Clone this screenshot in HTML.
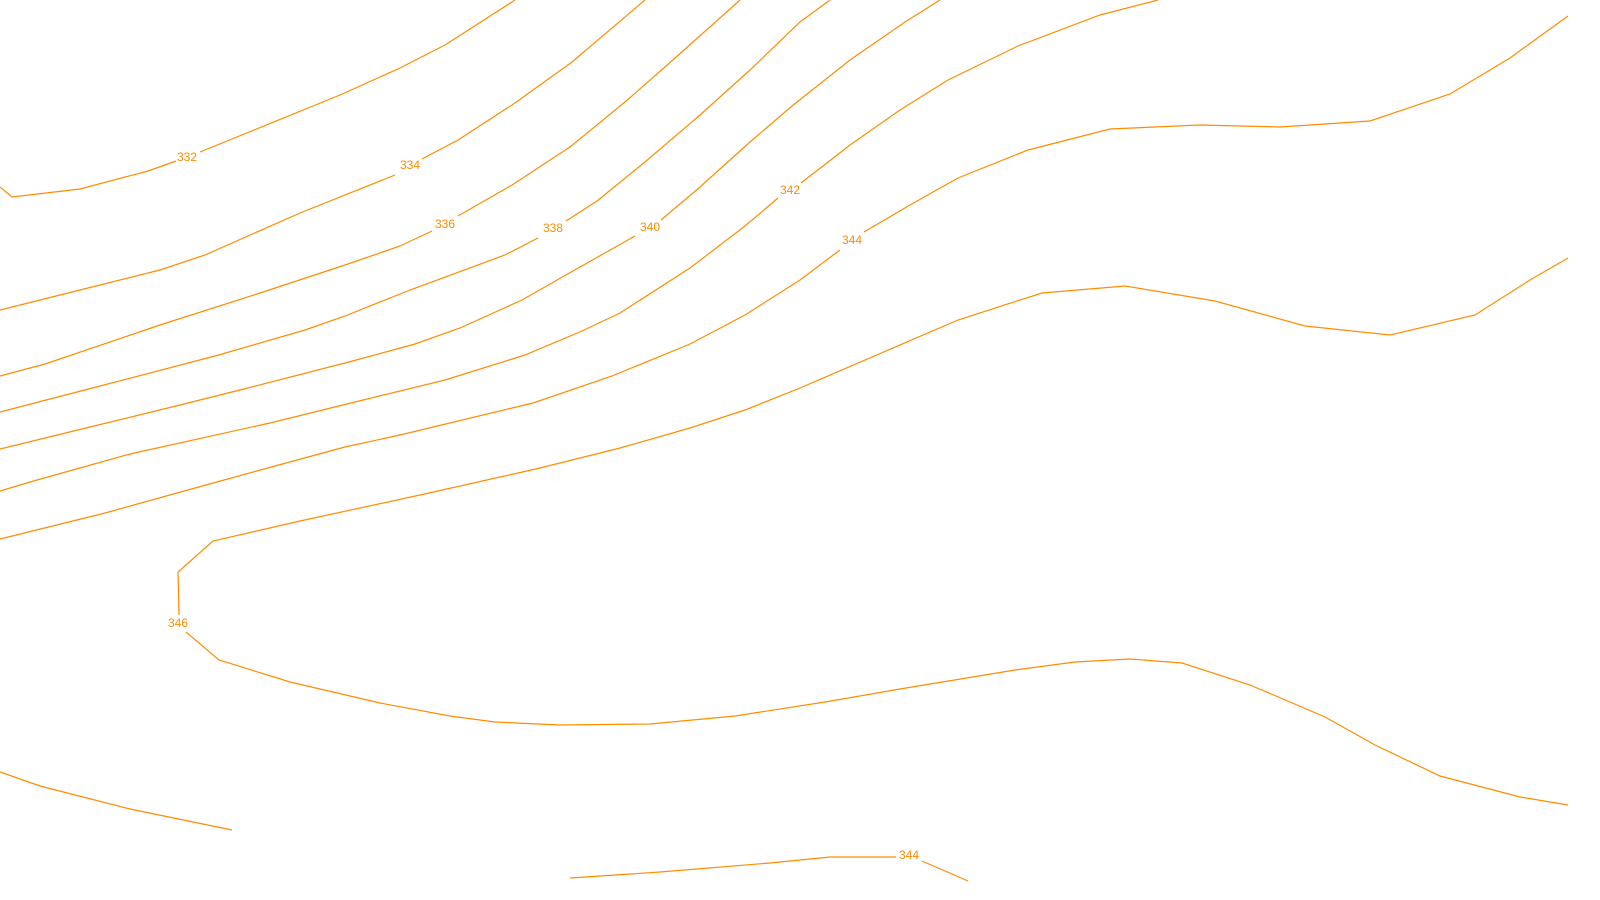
<!DOCTYPE html>
<html><head><meta charset="utf-8"><style>html,body{margin:0;padding:0;background:#fff;width:1600px;height:900px;overflow:hidden}svg{display:block}text{font-family:"Liberation Sans",sans-serif;font-size:12px;fill:#ff8c00;text-anchor:middle;dominant-baseline:central}</style></head>
<body><svg width="1600" height="900" viewBox="0 0 1600 900">
<g fill="none" stroke="#ff8c00" stroke-width="1.2">
<polyline points="0,187 12,197 80,189 148,171 176,161"/>
<polyline points="200,152 340,95 400,68 445,45 515,0"/>
<polyline points="0,310 80,290 160,270 205,255 300,213 395,175"/>
<polyline points="422,159 458,140 515,103 572,62 645,0"/>
<polyline points="0,376 45,364 160,325 260,293 345,265 400,246 432,231"/>
<polyline points="458,216 512,185 570,147 625,102 665,67 740,0"/>
<polyline points="0,412 100,386 215,356 305,330 345,316 410,290 505,255 538,238"/>
<polyline points="566,221 597,201 645,162 700,115 750,70 800,22 830,0"/>
<polyline points="0,449 90,427 180,405 240,390 345,363 415,344 460,328 522,300 580,267 635,236"/>
<polyline points="661,220 700,187 750,142 792,106 850,60 905,22 940,0"/>
<polyline points="0,491 30,482 130,454 270,423 355,402 445,380 525,355 582,331 620,313 690,268 745,226 778,198"/>
<polyline points="801,183 850,145 900,110 948,80 1018,46 1100,15 1158,0"/>
<polyline points="0,539 105,513 195,488 275,466 345,447 400,435 533,403 612,376 690,344 745,315 800,280 840,250"/>
<polyline points="864,232 910,205 958,178 1028,150 1110,129 1200,125 1280,127 1370,121 1450,94 1510,58 1568,16"/>
<polyline points="1568,258 1530,280 1475,315 1390,335 1305,326 1215,301 1125,286 1042,293 958,320 800,388 745,410 690,428 620,448 540,468 420,495 300,521 213,541 178,572 179,615"/>
<polyline points="186,632 219,660 290,682 380,703 450,716 495,722 560,725 650,724 735,716 825,702 900,689 1015,670 1075,662 1130,659 1182,663 1250,685 1325,717 1375,745 1440,776 1520,797 1568,805"/>
<polyline points="0,772 40,786 130,809 232,830"/>
<polyline points="570,878 660,872 770,863 830,857 896,857"/>
<polyline points="922,861 968,881"/>
</g>
<text x="187" y="157">332</text>
<text x="410" y="165">334</text>
<text x="445" y="224">336</text>
<text x="553" y="228">338</text>
<text x="650" y="227">340</text>
<text x="790" y="190">342</text>
<text x="852" y="240">344</text>
<text x="178" y="623">346</text>
<text x="909" y="855">344</text>
</svg></body></html>
